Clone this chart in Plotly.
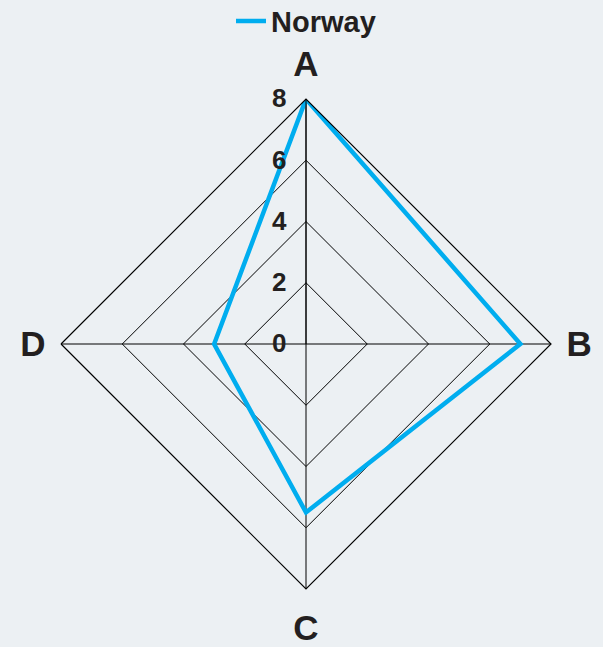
import plotly.graph_objects as go

# Radar categories and the Norway series
categories = ["A", "B", "C", "D"]
norway = [8, 7, 5.5, 3]
radial_ticks = [0, 2, 4, 6, 8]

BG = "#ecf0f3"
INK = "#231f20"
FONT = "Liberation Sans"

fig = go.Figure()
fig.add_trace(go.Scatterpolar(
    r=norway + norway[:1],
    theta=categories + categories[:1],
    mode="lines",
    name="Norway",
    line=dict(color="#00adef", width=4.5),
))

fig.update_layout(
    width=603,
    height=647,
    paper_bgcolor=BG,
    plot_bgcolor=BG,
    margin=dict(l=61, r=52, t=99, b=58, autoexpand=False),
    font=dict(family=FONT, color=INK),
    showlegend=True,
    legend=dict(
        orientation="h",
        x=0.5, xanchor="center",
        y=1.159, yanchor="middle",
        font=dict(size=29, weight="bold", family=FONT, color=INK),
        bgcolor="rgba(0,0,0,0)",
    ),
    polar=dict(
        bgcolor=BG,
        gridshape="linear",
        radialaxis=dict(
            range=[0, 8],
            tickvals=radial_ticks,
            angle=90,
            tickangle=90,
            side="counterclockwise",
            showline=True,
            linecolor="black",
            linewidth=1,
            gridcolor="black",
            gridwidth=1.2,
            ticks="outside",
            ticklen=10,
            tickcolor="rgba(0,0,0,0)",
            tickfont=dict(size=26, weight="bold", family=FONT, color=INK),
        ),
        angularaxis=dict(
            direction="clockwise",
            rotation=90,
            linecolor="black",
            linewidth=1.2,
            gridcolor="black",
            gridwidth=1.2,
            ticks="outside",
            ticklen=8,
            tickcolor="rgba(0,0,0,0)",
            tickfont=dict(size=35, weight="bold", family=FONT, color=INK),
        ),
    ),
)

fig.write_html("out.html")
